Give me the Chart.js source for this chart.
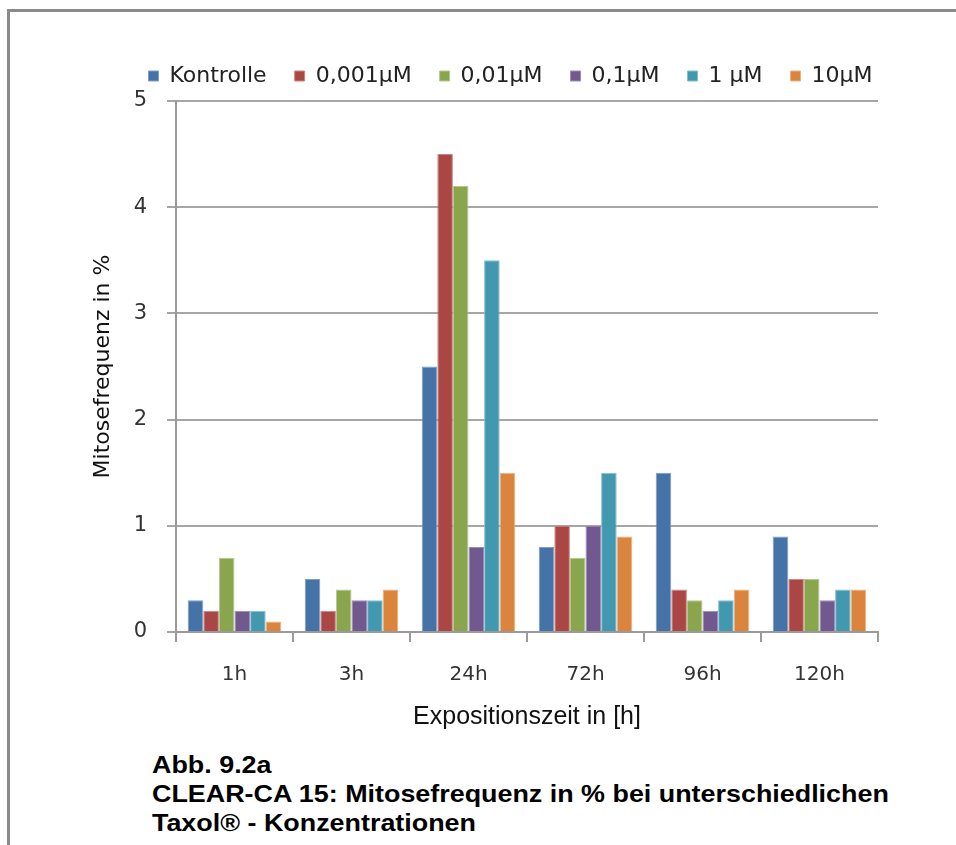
<!DOCTYPE html>
<html lang="de">
<head>
<meta charset="UTF-8">
<title>Mitosefrequenz</title>
<script src="https://cdn.jsdelivr.net/npm/chart.js"></script>
<style>
  html, body { margin: 0; padding: 0; background: #fff; }
  .page { position: relative; width: 956px; height: 845px; overflow: hidden; }
  .frame { position: absolute; left: 7px; top: 9px; width: 1000px; height: 900px;
           border-left: 3px solid #8a8a8a; border-top: 3px solid #8a8a8a; }
  #chart { position: absolute; left: 0; top: 0; }
  .caption { position: absolute; left: 152px; top: 750px; font-family: "Liberation Sans", Arial, sans-serif;
             font-weight: bold; font-size: 24px; line-height: 29px; color: #000; white-space: nowrap;
             transform: scaleX(1.12); transform-origin: 0 0; }
</style>
</head>
<body>
<div class="page">
  <div class="frame"></div>
  <canvas id="chart" width="956" height="740"></canvas>
  <div class="caption">
    Abb. 9.2a<br>
    CLEAR-CA 15: Mitosefrequenz in % bei unterschiedlichen<br>
    Taxol® - Konzentrationen
  </div>
</div>
<script>
const labels = ['1h', '3h', '24h', '72h', '96h', '120h'];
const kontrolle = [0.3, 0.5, 2.5, 0.8, 1.5, 0.9];
const c0001 = [0.2, 0.2, 4.5, 1.0, 0.4, 0.5];
const c001 = [0.7, 0.4, 4.2, 0.7, 0.3, 0.5];
const c01 = [0.2, 0.3, 0.8, 1.0, 0.2, 0.3];
const c1 = [0.2, 0.3, 3.5, 1.5, 0.3, 0.4];
const c10 = [0.1, 0.4, 1.5, 0.9, 0.4, 0.4];
const yTicks = [0, 1, 2, 3, 4, 5];

const sans = '"DejaVu Sans", sans-serif';

function ds(label, data, color, edge) {
    return { label: label, data: data, backgroundColor: color, borderColor: edge, borderWidth: 1, borderSkipped: 'bottom' };
}

// nudge the legend so it sits where Excel put it
const legendShift = {
    id: 'legendShift',
    afterLayout(chart) {
        const lg = chart.legend;
        lg.left += 34; lg.right += 34;
        lg.top -= 4; lg.bottom -= 4;
    }
};

const ctx = document.getElementById('chart').getContext('2d');
new Chart(ctx, {
    type: 'bar',
    data: {
        labels: labels,
        datasets: [
            ds('Kontrolle', kontrolle, '#4572A7', '#7d9dc6'),
            ds('0,001µM', c0001, '#AA4643', '#cc8583'),
            ds('0,01µM', c001, '#89A54E', '#b3c98c'),
            ds('0,1µM', c01, '#71588F', '#9d8ab5'),
            ds('1 µM', c1, '#4198AF', '#85bfcf'),
            ds('10µM', c10, '#DB843D', '#eeb07c')
        ]
    },
    plugins: [legendShift],
    options: {
        responsive: false,
        animation: false,
        layout: { padding: { left: 75, right: 78, top: 41, bottom: 8 } },
        datasets: { bar: { categoryPercentage: 0.8, barPercentage: 1.0 } },
        plugins: {
            legend: {
                position: 'top',
                labels: {
                    boxWidth: 10, boxHeight: 10, padding: 28, color: '#222',
                    font: { family: sans, size: 22 }
                }
            },
            tooltip: { enabled: false }
        },
        scales: {
            x: {
                grid: { drawOnChartArea: false, drawTicks: true, tickLength: 10, color: '#9a9a9a', lineWidth: 2, offset: true },
                border: { color: '#9a9a9a', width: 2 },
                ticks: { color: '#333', font: { family: sans, size: 20 }, padding: 21 },
                title: { display: true, text: 'Expositionszeit in [h]', color: '#111',
                         font: { family: '"Liberation Sans", Arial, sans-serif', size: 25 }, padding: { top: 4, bottom: 0 } },
                afterFit(scale) { scale.height = 100; }
            },
            y: {
                min: 0, max: 5,
                afterBuildTicks(scale) { scale.ticks = yTicks.map(v => ({ value: v })); },
                grid: { color: '#a6a6a6', lineWidth: 2, drawTicks: true, tickLength: 9 },
                border: { color: '#9a9a9a', width: 2 },
                ticks: { color: '#333', font: { family: sans, size: 21 }, padding: 20 },
                title: { display: true, text: 'Mitosefrequenz in %', color: '#111',
                         font: { family: sans, size: 22 }, padding: { top: 15, bottom: 0 } },
                afterFit(scale) { scale.width = 101; }
            }
        }
    }
});
</script>
</body>
</html>
